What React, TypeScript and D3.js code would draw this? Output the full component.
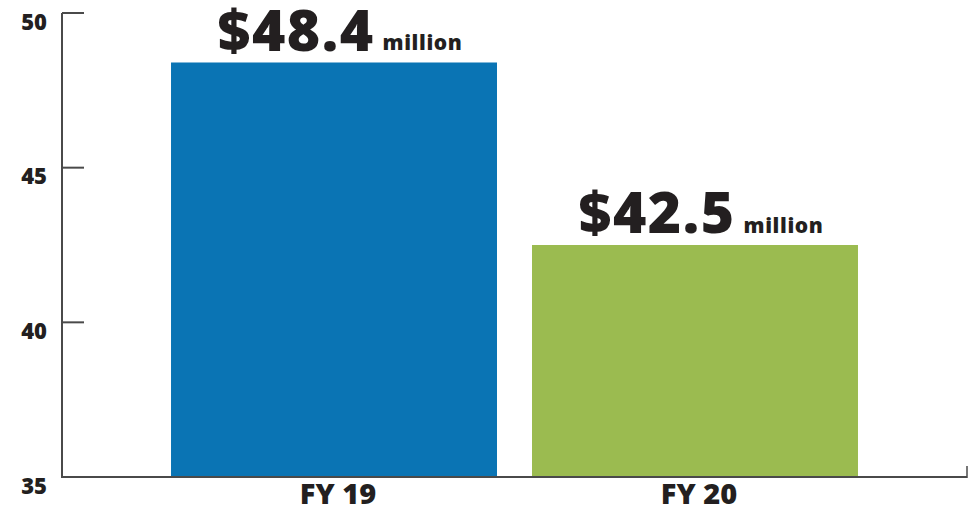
import React from "react";
import * as d3 from "d3";

const categories = ["FY 19", "FY 20"];
const values = [48.4, 42.5];
const valueLabels = ["$48.4", "$42.5"];
const unitLabel = "million";
const yTicks = [35, 40, 45, 50];
const colors = ["#0a74b4", "#9bbb50"];

const W = 975;
const H = 508;
const FONT = "'Open Sans', 'DejaVu Sans', sans-serif";

export default function App() {
  const x = d3
    .scaleBand<string>()
    .domain(categories)
    .range([62, 967])
    .paddingInner(0.097)
    .paddingOuter(0.302);
  const y = d3.scaleLinear().domain([35, 50]).range([477, 13]);
  const axisColor = "#4a4a4a";

  return (
    <svg
      width={W}
      height={H}
      style={{ position: "fixed", left: 0, top: 0, background: "#fff" }}
      fontFamily={FONT}
    >
      {categories.map((c, i) => (
        <rect
          key={c}
          x={x(c)}
          y={y(values[i])}
          width={x.bandwidth()}
          height={y(35) - y(values[i])}
          fill={colors[i]}
        />
      ))}
      <line x1={62} x2={62} y1={y(50)} y2={y(35)} stroke={axisColor} strokeWidth={2} />
      <line x1={61} x2={967} y1={y(35)} y2={y(35)} stroke={axisColor} strokeWidth={2} />
      <line x1={967} x2={967} y1={y(35) - 11} y2={y(35) + 1} stroke={axisColor} strokeWidth={1.5} />
      {yTicks.map((t) => (
        <g key={t}>
          {t !== 35 && (
            <line x1={62} x2={84} y1={y(t)} y2={y(t)} stroke={axisColor} strokeWidth={2} />
          )}
          <text
            x={47}
            y={y(t) + 16.5}
            textAnchor="end"
            fontSize={22}
            fontWeight={800}
            fill="#231f20"
          >
            {t}
          </text>
        </g>
      ))}
      {categories.map((c, i) => (
        <text
          key={c}
          x={(x(c) as number) + x.bandwidth() / 2 + 4}
          y={504}
          textAnchor="middle"
          fontSize={29}
          fontWeight={800}
          fill="#231f20"
        >
          {c}
        </text>
      ))}
      {categories.map((c, i) => (
        <text
          key={c + "v"}
          x={(x(c) as number) + x.bandwidth() / 2 + 6}
          y={y(values[i]) - 12}
          textAnchor="middle"
          fill="#231f20"
          fontWeight={800}
        >
          <tspan fontSize={57} letterSpacing={1.5}>{valueLabels[i]}</tspan>
          <tspan fontSize={21} dx={8} letterSpacing={0.6}>
            {unitLabel}
          </tspan>
        </text>
      ))}
    </svg>
  );
}
